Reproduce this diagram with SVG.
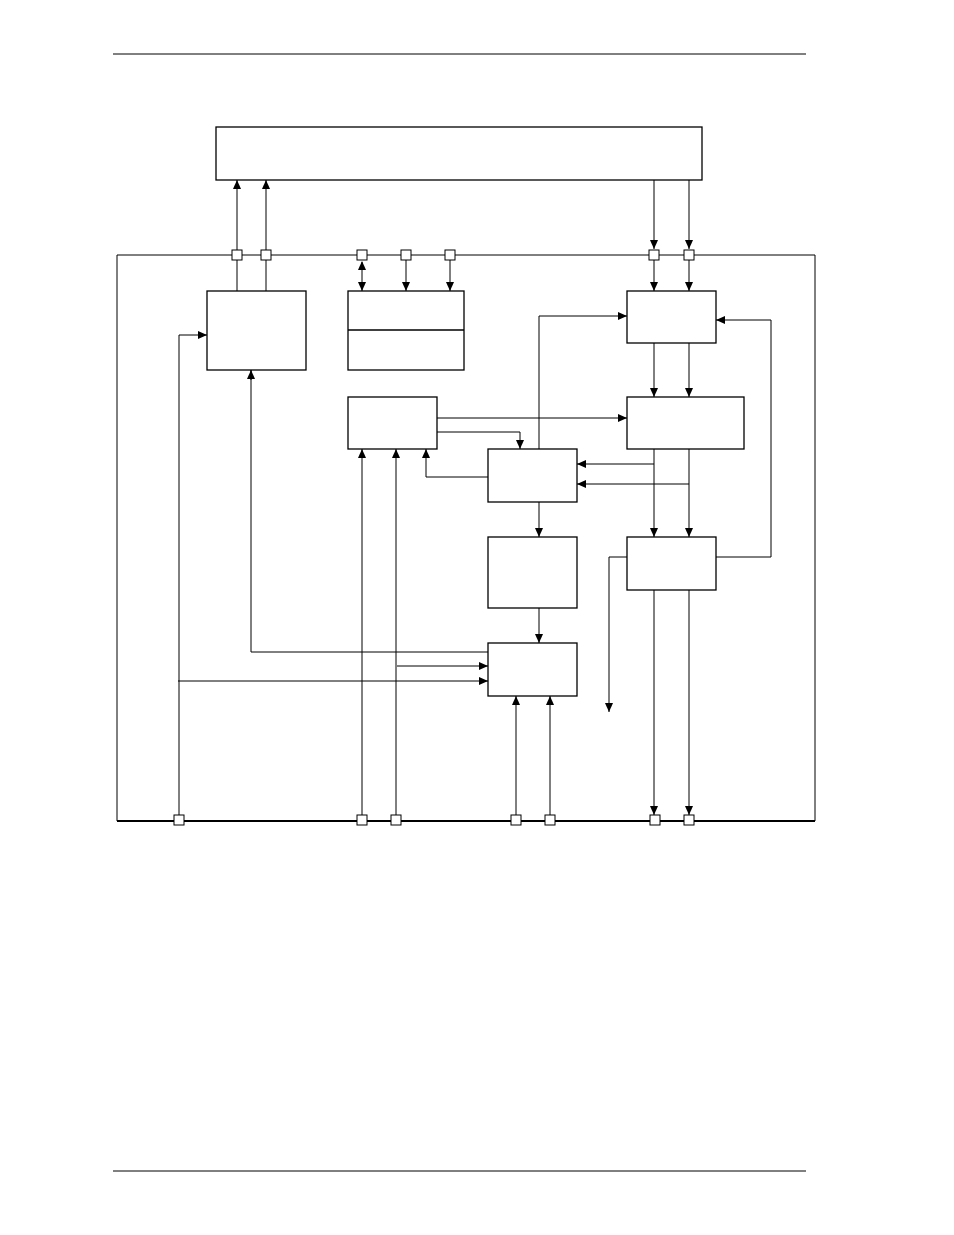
<svg xmlns="http://www.w3.org/2000/svg" width="954" height="1235" viewBox="0 0 954 1235">
<style>
.b{fill:#fff;stroke:#000;stroke-width:1.3}
.l{fill:none;stroke:#000;stroke-width:1}
.a{fill:none;stroke:#000;stroke-width:1;marker-end:url(#ah)}
.s{fill:#fff;stroke:#000;stroke-width:1}
</style>
<defs>
<marker id="ah" markerWidth="10" markerHeight="10" refX="9" refY="4" orient="auto" markerUnits="userSpaceOnUse"><path d="M0,0 L9,4 L0,8 z" fill="#000"/></marker>
<marker id="as" markerWidth="10" markerHeight="10" refX="1" refY="4" orient="auto" markerUnits="userSpaceOnUse"><path d="M9,0 L0,4 L9,8 z" fill="#000"/></marker>
</defs>
<line x1="113" y1="54" x2="806" y2="54" stroke="#000"/>
<line x1="113" y1="1171" x2="806" y2="1171" stroke="#000"/>
<g id="top"><rect class="b" x="216" y="127" width="486" height="53"/></g>
<g id="frame"><path class="l" d="M117,255 H815 V821"/><path class="l" d="M117,255 V821"/><line x1="117" y1="821" x2="815" y2="821" stroke="#000" stroke-width="2"/></g>
<g id="A"><rect class="b" x="207" y="291" width="99" height="79"/></g>
<g id="M"><rect class="b" x="348" y="291" width="116" height="79"/><line x1="348" y1="330" x2="464" y2="330" stroke="#000" stroke-width="1.3"/></g>
<g id="D"><rect class="b" x="627" y="291" width="89" height="52"/></g>
<g id="B"><rect class="b" x="348" y="397" width="89" height="52"/></g>
<g id="E"><rect class="b" x="627" y="397" width="117" height="52"/></g>
<g id="C"><rect class="b" x="488" y="449" width="89" height="53"/></g>
<g id="F"><rect class="b" x="627" y="537" width="89" height="53"/></g>
<g id="G"><rect class="b" x="488" y="537" width="89" height="71"/></g>
<g id="H"><rect class="b" x="488" y="643" width="89" height="53"/></g>
<g id="connectors">
<path class="a" d="M237,291 V180" stroke-width="2"/>
<path class="a" d="M266,291 V180"/>
<path class="a" d="M654,180 V249"/>
<path class="a" d="M689,180 V249"/>
<path class="a" d="M654,260 V291"/>
<path class="a" d="M689,260 V291"/>
<path class="a" d="M362,262 V291" style="marker-start:url(#as)"/>
<path class="a" d="M406,260 V291"/>
<path class="a" d="M450,260 V291"/>
<path class="a" d="M654,343 V397"/>
<path class="a" d="M689,343 V397"/>
<path class="a" d="M437,418 H627"/>
<path class="a" d="M437,432 H520 V449"/>
<path class="a" d="M488,477 H426 V449"/>
<path class="a" d="M539,449 V316 H627"/>
<path class="a" d="M654,449 V537"/>
<path class="a" d="M689,449 V537"/>
<path class="a" d="M654,464 H577"/>
<path class="a" d="M689,484 H577"/>
<path class="a" d="M716,557 H771 V320 H716"/>
<path class="a" d="M627,557 H609 V712"/>
<path class="a" d="M654,590 V815"/>
<path class="a" d="M689,590 V815"/>
<path class="a" d="M539,502 V537"/>
<path class="a" d="M539,608 V643"/>
<path class="a" d="M488,652 H251 V370" style="marker-end:none"/>
<path class="a" d="M251,380 V370"/>
<path class="a" d="M397,666 H488"/>
<path class="a" d="M178,681 H488"/>
<path class="a" d="M179,815 V335 H207"/>
<path class="a" d="M362,815 V449"/>
<path class="a" d="M396,815 V449"/>
<path class="a" d="M516,815 V696"/>
<path class="a" d="M550,815 V696"/>
</g>
<g id="ports">
<rect class="s" x="232" y="250" width="10" height="10"/>
<rect class="s" x="261" y="250" width="10" height="10"/>
<rect class="s" x="357" y="250" width="10" height="10"/>
<rect class="s" x="401" y="250" width="10" height="10"/>
<rect class="s" x="445" y="250" width="10" height="10"/>
<rect class="s" x="649" y="250" width="10" height="10"/>
<rect class="s" x="684" y="250" width="10" height="10"/>
<rect class="s" x="174" y="815" width="10" height="10"/>
<rect class="s" x="357" y="815" width="10" height="10"/>
<rect class="s" x="391" y="815" width="10" height="10"/>
<rect class="s" x="511" y="815" width="10" height="10"/>
<rect class="s" x="545" y="815" width="10" height="10"/>
<rect class="s" x="650" y="815" width="10" height="10"/>
<rect class="s" x="684" y="815" width="10" height="10"/>
</g>
</svg>
